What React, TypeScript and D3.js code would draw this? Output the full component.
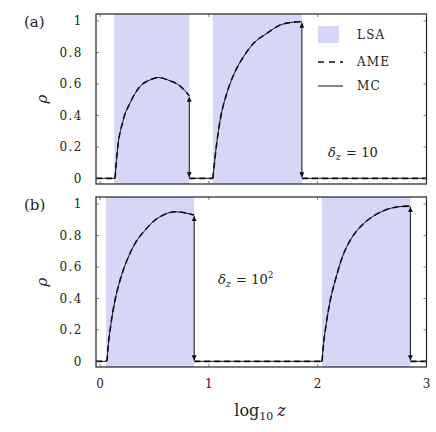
import React from "react";
import * as d3 from "d3";

// Log10 z positions and densities for each branch of the curves
const aBranch1X = [0.138, 0.154, 0.214, 0.276, 0.368, 0.46, 0.536, 0.644, 0.736, 0.82];
const aBranch1Y = [0, 0.138, 0.372, 0.479, 0.584, 0.626, 0.641, 0.62, 0.587, 0.525];
const aBranch2X = [1.037, 1.058, 1.104, 1.165, 1.227, 1.318, 1.41, 1.533, 1.656, 1.778, 1.855];
const aBranch2Y = [0, 0.14, 0.371, 0.541, 0.657, 0.773, 0.858, 0.922, 0.975, 0.993, 0.996];

const bBranch1X = [0.055, 0.064, 0.074, 0.101, 0.138, 0.184, 0.248, 0.322, 0.414, 0.506, 0.598, 0.69, 0.782, 0.865];
const bBranch1Y = [0, 0.01, 0.09, 0.242, 0.389, 0.516, 0.643, 0.75, 0.834, 0.898, 0.936, 0.951, 0.944, 0.93];
const bBranch2X = [2.04, 2.051, 2.079, 2.116, 2.162, 2.227, 2.3, 2.392, 2.502, 2.622, 2.742, 2.852];
const bBranch2Y = [0, 0.09, 0.24, 0.389, 0.516, 0.664, 0.771, 0.855, 0.919, 0.962, 0.983, 0.987];

// Stable-region bands from linear stability analysis
const aBands = [[0.13, 0.82], [1.037, 1.855]];
const bBands = [[0.055, 0.865], [2.04, 2.852]];

const xTicks = [0, 1, 2, 3];
const yTicks = [0, 0.2, 0.4, 0.6, 0.8, 1];
const X_MIN = -0.037;
const X_MAX = 3.0;

const LEFT = 96;
const RIGHT = 426.5;
const PANEL_H = 170;
const TOPS = [14, 197];

const serif = "'DejaVu Serif', 'Liberation Serif', serif";

type Pt = [number, number];

function zip(xs: number[], ys: number[]): Pt[] {
  return xs.map((x, i) => [x, ys[i]] as Pt);
}

function Panel({
  top,
  label,
  bands,
  branches,
  children,
}: {
  top: number;
  label: string;
  bands: number[][];
  branches: Pt[][];
  children?: React.ReactNode;
}) {
  const x = d3.scaleLinear().domain([X_MIN, X_MAX]).range([LEFT, RIGHT]);
  const y = d3.scaleLinear().domain([-0.036, 1.045]).range([top + PANEL_H, top]);
  const line = d3
    .line<Pt>()
    .x((d) => x(d[0]))
    .y((d) => y(d[1]))
    .curve(d3.curveMonotoneX);

  // Full trace: zero floor joined to the rising branches, with breaks at the jumps
  const segments: Pt[][] = [];
  let prevEnd = X_MIN;
  branches.forEach((b) => {
    segments.push([[prevEnd, 0], [b[0][0], 0]]);
    segments.push(b);
    prevEnd = b[b.length - 1][0];
  });
  segments.push([[prevEnd, 0], [X_MAX, 0]]);

  const arrows = branches.map((b) => b[b.length - 1]);
  const tl = 3;

  return (
    <g>
      {bands.map((b, i) => (
        <rect
          key={i}
          x={x(b[0])}
          y={top}
          width={x(b[1]) - x(b[0])}
          height={PANEL_H}
          fill="#d6d6f7"
        />
      ))}
      {segments.map((s, i) => (
        <path key={"mc" + i} d={line(s) || ""} fill="none" stroke="#111" strokeWidth={1} />
      ))}
      {segments.map((s, i) => (
        <path
          key={"ame" + i}
          d={line(s) || ""}
          fill="none"
          stroke="#111"
          strokeWidth={1.6}
          strokeDasharray="6 4"
        />
      ))}
      {arrows.map((p, i) => (
        <line
          key={"ar" + i}
          x1={x(p[0])}
          x2={x(p[0])}
          y1={y(p[1]) + 1}
          y2={y(0) - 1}
          stroke="#111"
          strokeWidth={1}
          markerStart="url(#arrowHead)"
          markerEnd="url(#arrowHead)"
        />
      ))}
      <rect x={LEFT} y={top} width={RIGHT - LEFT} height={PANEL_H} fill="none" stroke="#222" strokeWidth={1.2} />
      {xTicks.map((t) => (
        <g key={"xt" + t}>
          <line x1={x(t)} x2={x(t)} y1={top + PANEL_H} y2={top + PANEL_H - tl} stroke="#444" strokeWidth={0.7} />
          <line x1={x(t)} x2={x(t)} y1={top} y2={top + tl} stroke="#444" strokeWidth={0.7} />
        </g>
      ))}
      {yTicks.map((t) => (
        <g key={"yt" + t}>
          <line x1={LEFT} x2={LEFT + tl} y1={y(t)} y2={y(t)} stroke="#444" strokeWidth={0.7} />
          <line x1={RIGHT} x2={RIGHT - tl} y1={y(t)} y2={y(t)} stroke="#444" strokeWidth={0.7} />
          <text
            x={83}
            y={y(t)}
            dy="0.35em"
            textAnchor="end"
            fontFamily={serif}
            fontSize={12}
            letterSpacing={1.5}
            fill="#222"
          >
            {String(t)}
          </text>
        </g>
      ))}
      <text x={24} y={top + 8} dy="0.35em" fontFamily={serif} fontSize={15} fill="#222">
        {label}
      </text>
      <text
        transform={`translate(42,${top + PANEL_H / 2}) rotate(-90)`}
        textAnchor="middle"
        dy="0.35em"
        fontFamily={serif}
        fontStyle="italic"
        fontSize={15}
        fill="#222"
      >
        ρ
      </text>
      {children}
    </g>
  );
}

export default function App() {
  const x = d3.scaleLinear().domain([X_MIN, X_MAX]).range([LEFT, RIGHT]);
  const bottom = TOPS[1] + PANEL_H;
  return (
    <svg
      width={436}
      height={432}
      style={{ position: "absolute", left: 0, top: 0, background: "#fff" }}
    >
      <defs>
        <marker
          id="arrowHead"
          viewBox="0 0 10 10"
          refX="10"
          refY="5"
          markerWidth="5"
          markerHeight="6"
          orient="auto-start-reverse"
          markerUnits="userSpaceOnUse"
        >
          <path d="M0,0 L10,5 L0,10 z" fill="#111" />
        </marker>
      </defs>
      <Panel
        top={TOPS[0]}
        label="(a)"
        bands={aBands}
        branches={[zip(aBranch1X, aBranch1Y), zip(aBranch2X, aBranch2Y)]}
      >
        <rect x={318} y={26} width={21} height={17} fill="#d6d6f7" />
        <text x={357} y={35} dy="0.35em" fontFamily={serif} fontSize={12} letterSpacing={1.2} fill="#222">
          LSA
        </text>
        <line x1={318} x2={343} y1={62} y2={62} stroke="#111" strokeWidth={1.6} strokeDasharray="6 5" />
        <text x={357} y={62} dy="0.35em" fontFamily={serif} fontSize={12} letterSpacing={1.2} fill="#222">
          AME
        </text>
        <line x1={318} x2={343} y1={86} y2={86} stroke="#111" strokeWidth={1} />
        <text x={357} y={86} dy="0.35em" fontFamily={serif} fontSize={12} letterSpacing={1.2} fill="#222">
          MC
        </text>
        <text x={328} y={157} fontFamily={serif} fontSize={13} fill="#222">
          <tspan fontStyle="italic">δ</tspan>
          <tspan fontStyle="italic" fontSize={10} dy={3}>z</tspan>
          <tspan dy={-3} dx={5}>= 10</tspan>
        </text>
      </Panel>
      <Panel
        top={TOPS[1]}
        label="(b)"
        bands={bBands}
        branches={[zip(bBranch1X, bBranch1Y), zip(bBranch2X, bBranch2Y)]}
      >
        <text x={218} y={284} fontFamily={serif} fontSize={13} fill="#222">
          <tspan fontStyle="italic">δ</tspan>
          <tspan fontStyle="italic" fontSize={10} dy={3}>z</tspan>
          <tspan dy={-3} dx={5}>= 10</tspan>
          <tspan fontSize={9} dy={-6}>2</tspan>
        </text>
      </Panel>
      {xTicks.map((t) => (
        <text
          key={"xl" + t}
          x={x(t)}
          y={bottom + 17}
          dy="0.35em"
          textAnchor="middle"
          fontFamily={serif}
          fontSize={12}
          fill="#222"
        >
          {String(t)}
        </text>
      ))}
      <text x={260} y={416} textAnchor="middle" fontFamily={serif} fontSize={16} fill="#222">
        log
        <tspan fontSize={11} dy={4}>10</tspan>
        <tspan fontStyle="italic" dy={-4} dx={4}>z</tspan>
      </text>
    </svg>
  );
}
